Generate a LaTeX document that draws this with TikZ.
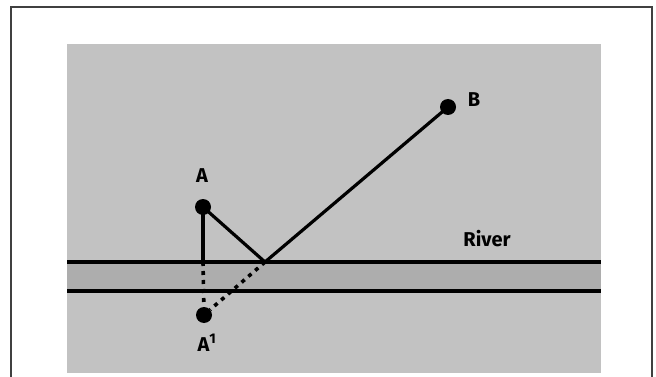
\documentclass[tikz,border=0pt]{standalone}
\usepackage{fontspec}
\setmainfont{Fira Sans}
\usepackage{xcolor}
\definecolor{landgray}{gray}{0.76}
\definecolor{rivergray}{gray}{0.68}

\begin{document}
\begin{tikzpicture}[
  x=1pt,y=-1pt,
  dot/.style={circle,fill=black,inner sep=0pt,minimum size=16pt},
  lbl/.style={font=\fontsize{20}{22}\selectfont\bfseries,inner sep=0pt},
  bank/.style={line width=4pt},
  route/.style={line width=3.2pt},
  mirror/.style={line width=3.6pt,dash pattern=on 4pt off 5pt}
]
  \useasboundingbox (0,0) rectangle (656,377);
  % frame and ground
  \draw[line width=1.6pt,black!75] (11,380) -- (11,7) -- (652,7) -- (652,380);
  \fill[landgray] (67,44) rectangle (601,373);
  \fill[rivergray] (67,262) rectangle (601,291);
  \coordinate (rl1) at (67,262);
  \coordinate (rr1) at (601,262);
  \coordinate (rl2) at (67,291);
  \coordinate (rr2) at (601,291);
  \draw[bank] (rl1) -- (rr1);
  \draw[bank] (rl2) -- (rr2);
  % points
  \node[dot] (a) at (203,207) {};
  \node[dot] (b) at (448,107) {};
  \node[dot] (a1) at (204,315) {};
  \coordinate (p) at (265,262);
  \coordinate (q) at (203,262);
  \node[lbl] (la) at (202,176) {A};
  \node[lbl] (lb) at (474,100) {B};
  \node[lbl] (la1) at (207,343) {A\textsuperscript{1}};
  \node[lbl] (lriver) at (487,239) {River};
  % paths
  \draw[route] (a.center) -- (p) -- (b.center);
  \draw[route] (a.center) -- (q);
  \draw[mirror] (q) -- (a1);
  \draw[mirror] (p) -- (a1);
\end{tikzpicture}
\end{document}
